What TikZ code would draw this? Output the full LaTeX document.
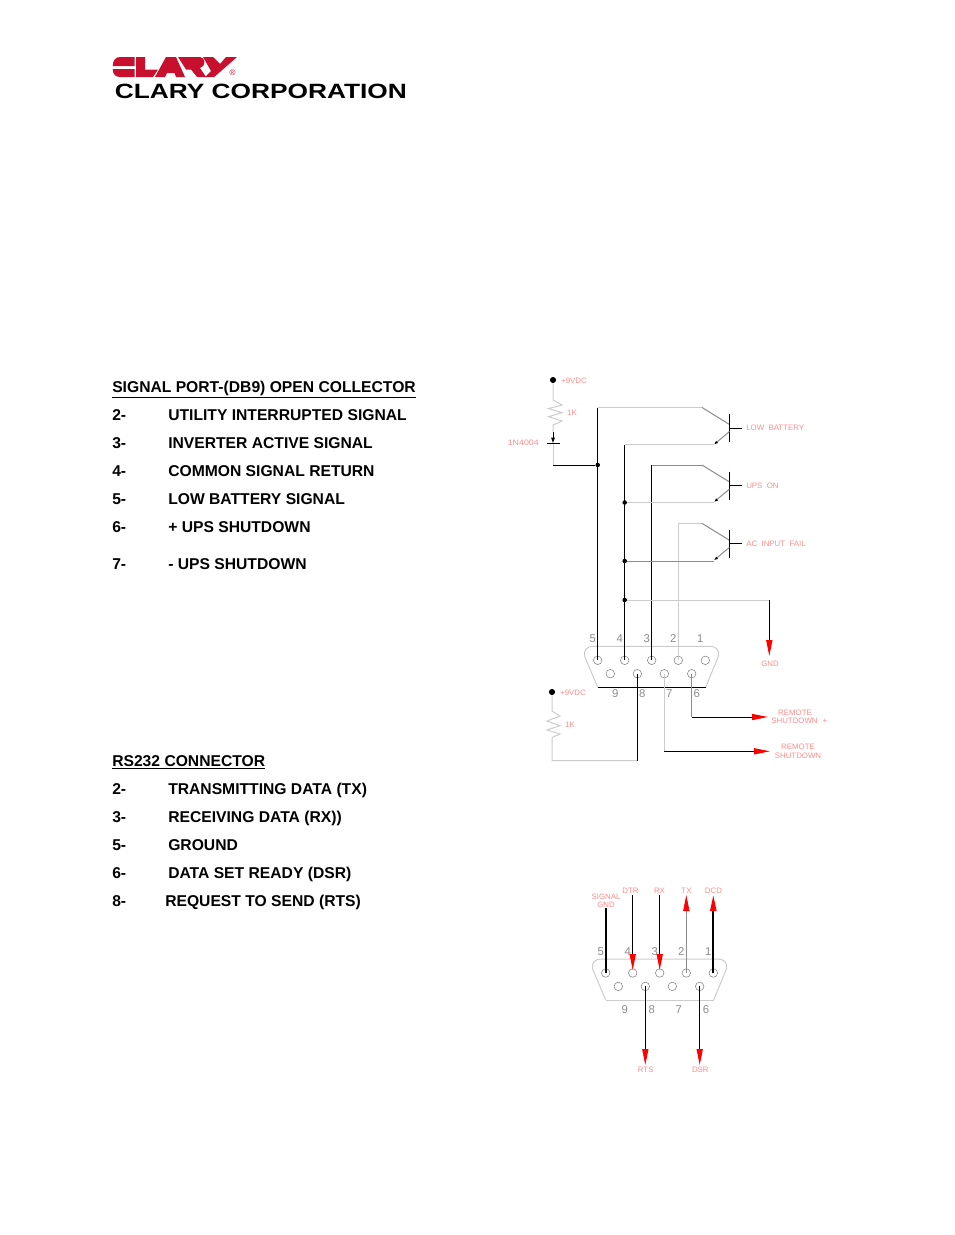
\documentclass[tikz,border=0pt]{standalone}
\usepackage{fontspec}
\setmainfont{Liberation Sans}
\usetikzlibrary{arrows.meta}
\definecolor{claryred}{RGB}{200,16,46}
\tikzset{
	listtext/.style={anchor=base west, inner sep=0pt, font=\fontsize{11.75}{12}\selectfont\bfseries},
	redtext/.style={inner sep=0pt, text=red!45, font=\fontsize{5.9}{6}\selectfont},
	pinnum/.style={inner sep=0pt, text=black!45, font=\fontsize{8.5}{9}\selectfont},
	pinhole/.style={circle, draw=black!50, line width=0.4pt, minimum size=6.4pt, inner sep=0pt},
	junction/.style={circle, fill=black, minimum size=3.4pt, inner sep=0pt},
	supply/.style={circle, fill=black, minimum size=4.6pt, inner sep=0pt},
	wire/.style={line width=0.75pt, color=black},
	palewire/.style={line width=0.75pt, color=black!20},
	midwire/.style={line width=0.75pt, color=black!45},
	heavywire/.style={line width=1.4pt, color=black},
	redtip/.style={-{Triangle[length=12pt,width=4.6pt,color=red,fill=red]}}
}
% connector shell, holes and pin numbers
\def\dbnine#1(#2,#3)#4(#5,#6){
	\begin{scope}[shift={(#2,#3)}]
		\draw[palewire] (705.7,687.3) -- (718.5,656) .. controls (719.5,650) and (716,646.3) .. (710,646.3) -- (593,646.3) .. controls (587,646.3) and (583.5,650) .. (584.5,656) -- (597.7,687.3);
		\draw[#4] (597.7,687.3) -- (705.7,687.3);
		\foreach \n/\px in {5/597.7,4/624.7,3/651.7,2/678.3,1/705.3}{
			\node[pinhole] (#1\n) at (\px,660.3) {};
			\node[pinnum] (#1n\n) at (\px-5,639) {\n};
		}
		\foreach \n/\px in {9/610.3,8/637.3,7/664.3,6/691.7}{
			\node[pinhole] (#1\n) at (\px,673.7) {};
			\node[pinnum] (#1n\n) at (\px+5+#5,694+#6) {\n};
		}
	\end{scope}
}
% output stage of one signal
\def\outstage#1(#2)#3{
	\draw[midwire] (702,#2) -- (729.5,#2+17);
	\draw[wire] (729.5,#2+6.5) -- (729.5,#2+34.5);
	\draw[wire] (729.5,#2+20.5) -- (741.5,#2+20.5);
	\draw[midwire, -{Latex[length=3pt,width=2.2pt,color=black,fill=black]}] (729.5,#2+24) -- (714,#2+37);
	\node[redtext, anchor=west] (#1) at (746,#2+20.7) {#3};
}
\begin{document}
\begin{tikzpicture}[x=0.75pt,y=-0.75pt]
	\useasboundingbox (0,0) rectangle (954,1235);
	%%%%% START %%%%%
	
	% logo
	\fill[claryred] (134.5,57) -- (120,57) .. controls (115,57) and (113,61) .. (112.7,66) -- (134.5,66) -- cycle;
	\fill[claryred] (134.5,77) -- (120,77) .. controls (115,77) and (113,74) .. (112.7,69) -- (134.5,69) -- cycle;
	\fill[claryred] (136,57) -- (145,57) -- (145,69.5) -- (158,69.5) -- (153,77) -- (136,77) -- cycle;
	\fill[claryred] (155,77) -- (166,57) -- (176,57) -- (185,77) -- (176,77) -- (174.5,73) -- (167,73) -- (165,77) -- cycle;
	\fill[claryred] (178,57) -- (200,57) .. controls (206,57) and (206,67) .. (200,68) -- (206,77) -- (197,77) -- (191,69.5) -- (186,69.5) -- cycle;
	\fill[claryred] (203,57) -- (213,57) -- (220,64) -- (226,57) -- (237,57) -- (220,72) -- (214,77) -- (205,77) -- (211,71) -- cycle;
	\node[inner sep=0pt, text=claryred, font=\fontsize{6}{6}\selectfont] (regmark) at (232.5,73) {®};
	\node[inner sep=0pt, anchor=base west, xscale=1.272, font=\fontsize{15.5}{16}\selectfont\bfseries] (company) at (114.5,98) {CLARY CORPORATION};
	
	% signal port list
	\node[listtext] (sighead) at (112,392.3) {\underline{SIGNAL PORT-(DB9) OPEN COLLECTOR}};
	\foreach \n/\ypos/\lbl in {2/420/UTILITY INTERRUPTED SIGNAL,3/448/INVERTER ACTIVE SIGNAL,4/476/COMMON SIGNAL RETURN,5/504/LOW BATTERY SIGNAL,6/532/+ UPS SHUTDOWN,7/569/- UPS SHUTDOWN}{
		\node[listtext] (signum\n) at (112,\ypos) {\n-};
		\node[listtext] (sigtxt\n) at (168,\ypos) {\lbl};
	}
	
	% rs232 list
	\node[listtext] (rshead) at (112,766) {\underline{RS232 CONNECTOR}};
	\foreach \n/\ypos/\lbl in {2/794/TRANSMITTING DATA (TX),3/822/RECEIVING DATA (RX)),5/850/GROUND,6/878/DATA SET READY (DSR)}{
		\node[listtext] (rsnum\n) at (112,\ypos) {\n-};
		\node[listtext] (rstxt\n) at (168,\ypos) {\lbl};
	}
	\node[listtext] (rsnum8) at (112,906) {8-};
	\node[listtext] (rstxt8) at (165,906) {REQUEST TO SEND (RTS)};
	
	% upper connector
	\dbnine a(0,0){wire}(0,0)
	
	% supply and diode
	\node[supply] (vcca) at (553,380) {};
	\node[redtext, anchor=west] (vccatxt) at (561,380.5) {+9VDC};
	\node[redtext] (ratxt) at (572,413) {1K};
	\node[redtext, anchor=east, xscale=1.12] (diodetxt) at (539,442.7) {1N4004};
	\node[junction] (j1) at (597.7,465) {};
	\node[junction] (j2) at (624.7,502.5) {};
	\node[junction] (j3) at (624.7,561) {};
	\node[junction] (j4) at (624.7,600) {};
	\draw[palewire] (vcca) -- (553,400) -- (562,405) -- (548.5,408.5) -- (562,412.7) -- (548.5,416.7) -- (562,421) -- (553,425) -- (553,432);
	\draw[wire, -{Latex[length=4.5pt,width=3pt,color=black,fill=black]}] (553,432) -- (553,443.7);
	\draw[wire] (547,443.7) -- (560,443.7);
	\draw[palewire] (553,443.7) -- (553,465);
	\draw[wire] (553,465) -- (j1);
	
	% output stages
	\outstage lowbat(407.5){LOW\ \ BATTERY}
	\outstage upson(465){UPS\ \ ON}
	\outstage acfail(523.3){AC\ \ INPUT\ \ FAIL}
	
	\draw[wire] (597.7,407.5) -- (a5.center);
	\draw[palewire] (597.7,407.5) -- (702,407.5);
	\draw[wire] (624.7,444.5) -- (a4.center);
	\draw[palewire] (624.7,444.5) -- (714,444.5);
	\draw[wire] (651.7,465) -- (a3.center);
	\draw[midwire] (651.7,465) -- (702,465);
	\draw[palewire] (j2) -- (714,502.5);
	\draw[palewire, line width=1.1pt] (678.3,523.3) -- (a2.center);
	\draw[palewire] (678.3,523.3) -- (702,523.3);
	\draw[midwire] (j3) -- (714,561);
	
	% ground
	\coordinate (gndturn) at (769.3,600);
	\coordinate (gndtip) at (769.3,656);
	\node[redtext] (gndtxt) at (770,664) {GND};
	\draw[palewire] (j4) -- (gndturn);
	\draw[wire, redtip] (gndturn) -- (gndtip);
	
	% remote shutdown
	\coordinate (rema) at (691.7,717);
	\coordinate (remb) at (664.3,751.3);
	\node[redtext] (remaone) at (795,712.5) {REMOTE};
	\node[redtext] (rematwo) at (794.5,721) {SHUTDOWN};
	\node[redtext] (remasign) at (825,721) {+};
	\node[redtext] (remone) at (798,747) {REMOTE};
	\node[redtext] (remtwo) at (798,756) {SHUTDOWN};
	\draw[midwire] (a6.center) -- (rema);
	\draw[wire, redtip] (rema) -- (768,717);
	\draw[palewire] (a7.center) -- (remb);
	\draw[wire, redtip] (remb) -- (770,751.3);
	
	% second supply
	\node[supply] (vccb) at (552,692) {};
	\node[redtext, anchor=west] (vccbtxt) at (560,692.5) {+9VDC};
	\node[redtext] (rbtxt) at (570,725) {1K};
	\coordinate (pullup) at (637.3,760.5);
	\draw[palewire] (vccb) -- (552,711) -- (560,716) -- (547,721) -- (560,725.7) -- (547,730) -- (560,734) -- (552,737.5) -- (552,760.5) -- (pullup);
	\draw[wire] (a8.center) -- (pullup);
	
	% lower connector
	\dbnine b(8,312.7){palewire}(1.4,3.3)
	\node[redtext] (sgtxt) at (606,896.5) {SIGNAL};
	\node[redtext] (sgtxtb) at (606,904.5) {GND};
	\node[redtext] (dtrtxt) at (630.5,891) {DTR};
	\node[redtext] (rxtxt) at (659.5,891) {RX};
	\node[redtext] (txtxt) at (686.5,890.5) {TX};
	\node[redtext] (dcdtxt) at (713.5,890.5) {DCD};
	\node[redtext] (rtstxt) at (645.7,1069.5) {RTS};
	\node[redtext] (dsrtxt) at (700.3,1069.5) {DSR};
	\coordinate (sgend) at (605.7,908);
	\coordinate (dtrend) at (632.7,895);
	\coordinate (rxend) at (659.7,895);
	\coordinate (txend) at (686.3,895);
	\coordinate (dcdend) at (713.3,895);
	\coordinate (rtsend) at (645.3,1065);
	\coordinate (dsrend) at (699.7,1065);
	\draw[heavywire] (b5.center) -- (sgend);
	\draw[wire, redtip] (dtrend) -- (632.7,970);
	\draw[wire, redtip] (rxend) -- (659.7,970);
	\draw[midwire, redtip] (b2.center) -- (txend);
	\draw[heavywire, redtip] (b1.center) -- (dcdend);
	\draw[wire, redtip] (b8.center) -- (rtsend);
	\draw[wire, redtip] (b6.center) -- (dsrend);
	
	%%%%% END %%%%%
\end{tikzpicture}
\end{document}
